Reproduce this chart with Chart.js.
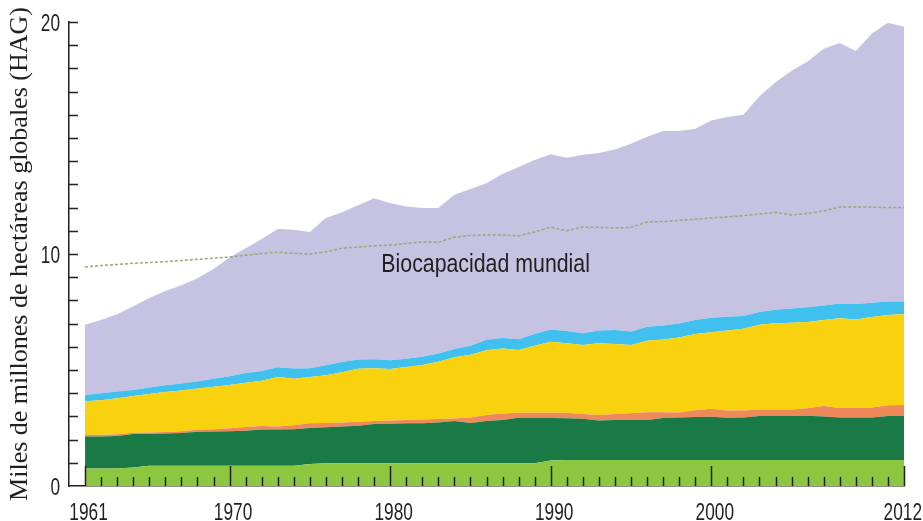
<!DOCTYPE html>
<html>
<head>
<meta charset="utf-8">
<script src="https://cdn.jsdelivr.net/npm/chart.js@4.4.1/dist/chart.umd.min.js"></script>
<style>
  html, body { margin: 0; padding: 0; background: #fff; }
  #wrap { width: 923px; height: 521px; }
</style>
</head>
<body>
<div id="wrap"><canvas id="chart" width="923" height="521"></canvas></div>
<script>
const years = [1961, 1962, 1963, 1964, 1965, 1966, 1967, 1968, 1969, 1970,
  1971, 1972, 1973, 1974, 1975, 1976, 1977, 1978, 1979, 1980,
  1981, 1982, 1983, 1984, 1985, 1986, 1987, 1988, 1989, 1990,
  1991, 1992, 1993, 1994, 1995, 1996, 1997, 1998, 1999, 2000,
  2001, 2002, 2003, 2004, 2005, 2006, 2007, 2008, 2009, 2010,
  2011, 2012];

// layers, bottom to top (miles de millones de HAG)
const lightGreen = [0.75, 0.75, 0.75, 0.80, 0.87, 0.87, 0.87, 0.87, 0.87, 0.87,
  0.87, 0.87, 0.87, 0.87, 0.95, 0.98, 0.98, 0.98, 0.98, 0.98,
  0.98, 0.98, 0.98, 0.98, 0.98, 0.98, 0.98, 0.98, 0.98, 1.10,
  1.12, 1.12, 1.12, 1.12, 1.12, 1.12, 1.12, 1.12, 1.12, 1.12,
  1.12, 1.12, 1.12, 1.12, 1.12, 1.12, 1.12, 1.12, 1.12, 1.12,
  1.12, 1.12];
const darkGreen = [1.38, 1.38, 1.40, 1.44, 1.38, 1.39, 1.41, 1.47, 1.48, 1.49,
  1.51, 1.57, 1.57, 1.58, 1.55, 1.55, 1.58, 1.62, 1.69, 1.70,
  1.72, 1.73, 1.76, 1.82, 1.74, 1.82, 1.87, 1.96, 1.95, 1.83,
  1.80, 1.78, 1.70, 1.73, 1.74, 1.72, 1.81, 1.83, 1.85, 1.87,
  1.82, 1.83, 1.90, 1.91, 1.91, 1.91, 1.88, 1.83, 1.83, 1.83,
  1.90, 1.91];
const orange = [0.07, 0.08, 0.08, 0.05, 0.06, 0.07, 0.08, 0.08, 0.10, 0.13,
  0.16, 0.15, 0.13, 0.17, 0.20, 0.19, 0.18, 0.17, 0.13, 0.14,
  0.15, 0.16, 0.15, 0.11, 0.23, 0.26, 0.27, 0.22, 0.23, 0.23,
  0.24, 0.20, 0.24, 0.25, 0.28, 0.34, 0.25, 0.22, 0.29, 0.34,
  0.31, 0.30, 0.28, 0.27, 0.27, 0.32, 0.45, 0.41, 0.41, 0.43,
  0.46, 0.46];
const yellow = [1.45, 1.49, 1.55, 1.59, 1.66, 1.72, 1.76, 1.78, 1.83, 1.86,
  1.91, 1.95, 2.13, 2.00, 2.00, 2.05, 2.16, 2.28, 2.28, 2.22,
  2.28, 2.35, 2.47, 2.64, 2.71, 2.79, 2.81, 2.70, 2.89, 3.06,
  2.99, 2.98, 3.09, 3.02, 2.94, 3.08, 3.14, 3.23, 3.29, 3.30,
  3.45, 3.53, 3.65, 3.72, 3.74, 3.72, 3.70, 3.87, 3.82, 3.90,
  3.89, 3.92];
const lightBlue = [0.27, 0.30, 0.29, 0.26, 0.28, 0.29, 0.30, 0.30, 0.34, 0.38,
  0.42, 0.42, 0.42, 0.44, 0.38, 0.43, 0.45, 0.40, 0.38, 0.38,
  0.36, 0.35, 0.35, 0.35, 0.39, 0.45, 0.45, 0.47, 0.50, 0.53,
  0.53, 0.50, 0.55, 0.60, 0.58, 0.60, 0.60, 0.60, 0.60, 0.62,
  0.60, 0.55, 0.55, 0.58, 0.61, 0.63, 0.63, 0.64, 0.66, 0.62,
  0.58, 0.54];
const lavender = [3.03, 3.15, 3.33, 3.61, 3.85, 4.06, 4.23, 4.45, 4.73, 5.12,
  5.38, 5.69, 5.96, 5.99, 5.87, 6.35, 6.45, 6.65, 6.94, 6.78,
  6.56, 6.41, 6.27, 6.65, 6.75, 6.75, 7.07, 7.42, 7.50, 7.55,
  7.47, 7.70, 7.65, 7.78, 8.09, 8.19, 8.38, 8.30, 8.25, 8.50,
  8.60, 8.67, 9.30, 9.80, 10.25, 10.60, 11.07, 11.23, 10.91, 11.60,
  12.02, 11.85];
const biocapacity = [9.44, 9.50, 9.55, 9.60, 9.63, 9.67, 9.72, 9.77, 9.82, 9.87,
  9.95, 10.02, 10.08, 10.03, 10.00, 10.10, 10.25, 10.30, 10.35, 10.39,
  10.45, 10.52, 10.50, 10.73, 10.80, 10.82, 10.82, 10.78, 10.95, 11.16,
  11.00, 11.16, 11.15, 11.12, 11.15, 11.38, 11.40, 11.45, 11.50, 11.55,
  11.60, 11.65, 11.72, 11.80, 11.68, 11.75, 11.85, 12.03, 12.03, 12.02,
  12.00, 12.00];

const xLabelYears = [1961, 1970, 1980, 1990, 2000, 2012];
const majorYears = [1961, 1970, 1980, 1990, 2000, 2012];
const yLabels = [0, 10, 20];

const SANS = '"Liberation Sans", Arial, sans-serif';
const INK = '#231f20';

function pts(arr) {
  return years.map((yr, i) => ({ x: yr, y: arr[i] }));
}

function layer(label, arr, color, fill) {
  return {
    label: label,
    data: pts(arr),
    backgroundColor: color,
    borderWidth: 0,
    pointRadius: 0,
    fill: fill,
    stack: 'huella'
  };
}

// condensed text: regular sans squeezed horizontally
function narrowText(ctx, text, x, y, align, squeeze) {
  const w = ctx.measureText(text).width * squeeze;
  let left = x;
  if (align === 'center') left = x - w / 2;
  if (align === 'right') left = x - w;
  ctx.save();
  ctx.translate(left, y);
  ctx.scale(squeeze, 1);
  ctx.textAlign = 'left';
  ctx.fillText(text, 0, 0);
  ctx.restore();
  return w;
}

// inward tick marks, condensed labels and the annotation
const axisMarks = {
  id: 'axisMarks',
  afterDatasetsDraw(chart) {
    const { ctx, scales: { x, y } } = chart;
    ctx.save();
    ctx.strokeStyle = INK;
    ctx.lineWidth = 1.5;
    ctx.beginPath();
    years.forEach(yr => {
      const px = Math.round(x.getPixelForValue(yr)) + 0.5;
      const len = majorYears.includes(yr) ? 20 : 9;
      ctx.moveTo(px, y.bottom);
      ctx.lineTo(px, y.bottom - len);
    });
    for (let v = 1; v <= 20; v++) {
      const py = Math.round(y.getPixelForValue(v)) + 0.5;
      ctx.moveTo(x.left, py);
      ctx.lineTo(x.left + 9, py);
    }
    ctx.stroke();

    ctx.fillStyle = INK;
    ctx.textBaseline = 'alphabetic';

    ctx.font = '24px ' + SANS;
    xLabelYears.forEach(yr => {
      const txt = String(yr);
      const w = ctx.measureText(txt).width * 0.72;
      const cx = Math.min(x.getPixelForValue(yr) + 3.5, chart.width - 1 - w / 2);
      narrowText(ctx, txt, cx, y.bottom + 34, 'center', 0.72);
    });

    ctx.font = '24px ' + SANS;
    yLabels.forEach(v => {
      narrowText(ctx, String(v), x.left - 9, y.getPixelForValue(v) + 8.5, 'right', 0.72);
    });

    ctx.font = '26px ' + SANS;
    narrowText(ctx, 'Biocapacidad mundial', x.getPixelForValue(1979.45), y.getPixelForValue(9.22), 'left', 0.82);
    ctx.restore();
  }
};

new Chart(document.getElementById('chart'), {
  type: 'line',
  data: {
    datasets: [
      {
        label: 'Biocapacidad mundial',
        data: pts(biocapacity),
        borderColor: '#93ab74',
        borderWidth: 1.5,
        borderDash: [3, 2],
        pointRadius: 0,
        fill: false,
        stack: 'bio',
        order: -1
      },
      layer('Verde claro', lightGreen, '#8dc63f', 'origin'),
      layer('Verde oscuro', darkGreen, '#197a45', '-1'),
      layer('Naranja', orange, '#f0895a', '-1'),
      layer('Amarillo', yellow, '#f8d20e', '-1'),
      layer('Azul', lightBlue, '#3fc0ef', '-1'),
      layer('Lavanda', lavender, '#c5c3e1', '-1')
    ]
  },
  options: {
    responsive: false,
    animation: false,
    events: [],
    layout: { padding: { left: 0, right: 19, top: 22, bottom: 0 } },
    plugins: { legend: { display: false }, tooltip: { enabled: false } },
    elements: { line: { tension: 0 } },
    scales: {
      x: {
        type: 'linear',
        min: 1960,
        max: 2012,
        grid: { display: false, drawTicks: false },
        border: { display: true, color: INK, width: 1.5 },
        afterBuildTicks: s => { s.ticks = xLabelYears.map(v => ({ value: v })); },
        afterFit: s => { s.height = 35; },
        ticks: { display: false }
      },
      y: {
        stacked: true,
        min: 0,
        max: 20,
        grid: { display: false, drawTicks: false },
        border: { display: true, color: INK, width: 1.5 },
        afterBuildTicks: s => { s.ticks = yLabels.map(v => ({ value: v })); },
        afterFit: s => { s.width = 69; },
        ticks: { display: false },
        title: {
          display: true,
          text: 'Miles de millones de hectáreas globales (HAG)',
          color: INK,
          padding: { top: 5, bottom: 0 },
          font: { family: '"Liberation Serif", "Times New Roman", serif', size: 26 }
        }
      }
    }
  },
  plugins: [axisMarks]
});
</script>
</body>
</html>
